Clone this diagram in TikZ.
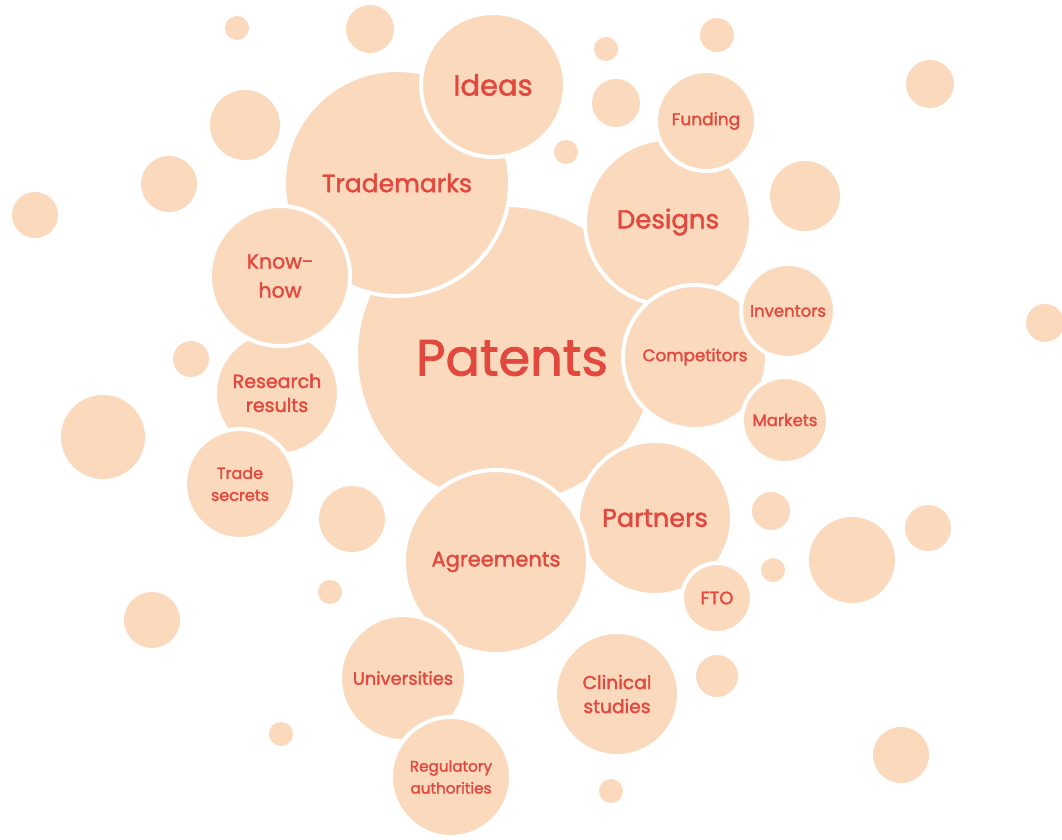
\documentclass[tikz,border=0pt]{standalone}
\usepackage{fontspec}
\setmainfont{Poppins}[FakeBold=1.6]
\definecolor{peach}{HTML}{FAD9BC}
\definecolor{coral}{HTML}{E2483D}
\tikzset{
  bub/.style={circle, fill=peach, draw=white, line width=4pt, inner sep=0pt, text=coral, align=center},
  dot/.style={circle, fill=peach, inner sep=0pt},
}
\newcommand{\fs}[2]{\fontsize{#1}{#2}\selectfont}
\begin{document}
\begin{tikzpicture}[x=1pt,y=-1pt]
\useasboundingbox (0,0) rectangle (1062,839);
% decorative dots
\foreach \x/\y/\r [count=\i] in {237/28/12, 370/29/24, 606/49/12, 717/35/17, 930/84/24, 245/125/35, 616/103/24, 566/152/12, 169/184/28, 35/215/23, 805/196/35, 1045/323/19, 191/359/18, 103/437/42, 352/519/33, 771/511/19, 928/528/23, 852/560/43, 773/570/12, 330/592/12, 152/620/28, 717/676/21, 281/734/12, 901/755/28, 611/791/12}
  \node[dot, minimum size=2*\r pt] (d\i) at (\x,\y) {};
% main bubbles
\node[bub, minimum size=300pt] (patents) at (506,355) {};
\node[coral, font=\fs{51}{60}] (patentsl) at (512,358) {Patents};
\node[bub, minimum size=226pt, font=\fs{25}{30}] (trademarks) at (397,183) {Trademarks};
\node[bub, minimum size=144pt, font=\fs{29}{34}] (ideas) at (493,85) {Ideas};
\node[bub, minimum size=166pt, font=\fs{26}{30}] (designs) at (668,222) {Designs};
\node[bub, minimum size=100pt, font=\fs{17}{20}] (funding) at (706,121) {Funding};
\node[bub, minimum size=144pt, font=\fs{16.8}{20}] (competitors) at (695,357) {Competitors};
\node[bub, minimum size=94pt, font=\fs{16.5}{20}] (inventors) at (788,311) {Inventors};
\node[bub, minimum size=86pt, font=\fs{16.5}{20}] (markets) at (785,420) {Markets};
\node[bub, minimum size=154pt, font=\fs{25.5}{30}] (partners) at (655,518) {Partners};
\node[bub, minimum size=70pt, font=\fs{18}{21}] (fto) at (717,598) {FTO};
\node[bub, minimum size=184pt, font=\fs{21}{25}] (agreements) at (496,562) {Agreements};
\node[bub, minimum size=126pt, font=\fs{17.8}{21}] (universities) at (403,678) {Universities};
\node[bub, minimum size=120pt, font=\fs{15.2}{22}] (regulatory) at (451,777) {Regulatory\\authorities};
\node[bub, minimum size=124pt, font=\fs{18.7}{24}] (clinical) at (617,694) {Clinical\\studies};
\node[bub, minimum size=124pt, font=\fs{19}{24}] (research) at (277,393) {Research\\results};
\node[bub, minimum size=140pt, font=\fs{20.5}{29}] (knowhow) at (280,276) {Know-\\how};
\node[bub, minimum size=110pt, font=\fs{16}{22}] (trade) at (240,484) {Trade\\secrets};
\end{tikzpicture}
\end{document}
